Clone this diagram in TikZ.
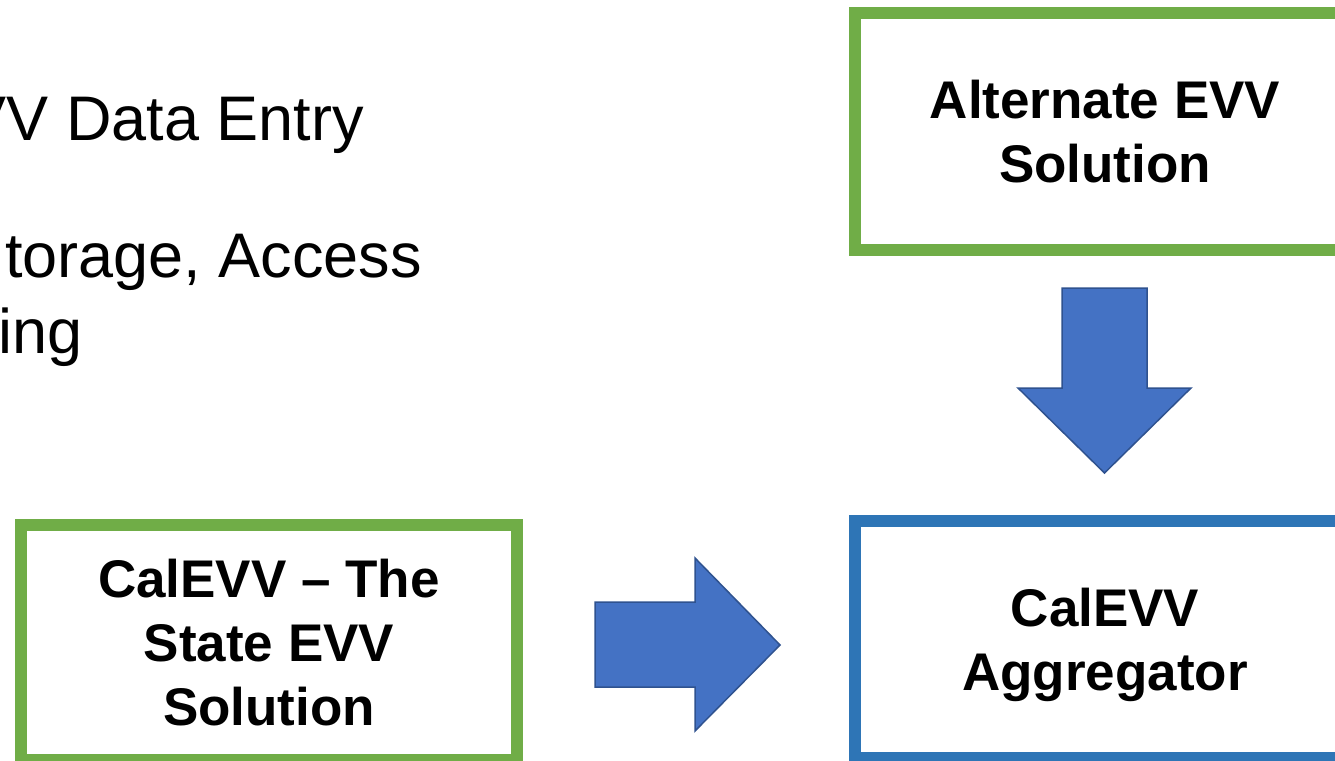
\documentclass[tikz,border=0pt]{standalone}
\usepackage{fontspec}
\setmainfont{Liberation Sans}
\definecolor{boxgreen}{HTML}{70AD47}
\definecolor{boxblue}{HTML}{2E75B6}
\definecolor{arrowfill}{HTML}{4472C4}
\definecolor{arrowline}{HTML}{2F528F}
\begin{document}
\begin{tikzpicture}[x=1pt,y=-1pt,
  bigtext/.style={inner sep=0pt, font=\fontsize{63}{76}\selectfont},
  boxtext/.style={draw, line width=12pt, align=center, inner sep=0pt, text depth=0pt, font=\fontsize{53}{64}\selectfont\bfseries},
  greenbox/.style={boxtext, draw=boxgreen},
  bluebox/.style={boxtext, draw=boxblue},
  blockarrow/.style={fill=arrowfill, draw=arrowline, line width=1.5pt, line join=miter}]
\useasboundingbox (0,0) rectangle (1335,760);
\clip (0,0) rectangle (1335,760);
\fill[white] (0,0) rectangle (1335,760);
% left text
\node[bigtext, anchor=base east] (l1) at (364,140) {EVV Data Entry};
\node[bigtext, anchor=base east] (l2) at (422,277) {torage, Access};
\node[bigtext, anchor=base west] (l3) at (-2,353) {ing};
% boxes
\node[greenbox, minimum width=496pt, minimum height=235pt] (state) at (269,642.5) {CalEVV -- The\\State EVV\\Solution};
\node[greenbox, minimum width=500pt, minimum height=237pt] (alt) at (1105,131.5) {Alternate EVV\\Solution};
\node[bluebox, minimum width=500pt, minimum height=237pt] (agg) at (1105,639.5) {CalEVV\\Aggregator};
% block arrows
\draw[blockarrow] (595,602) -- (695,602) -- (695,558) -- (780,645) -- (695,731) -- (695,687) -- (595,687) -- cycle;
\draw[blockarrow] (1062,288) -- (1147,288) -- (1147,388) -- (1191,388) -- (1104.5,473) -- (1018,388) -- (1062,388) -- cycle;
\end{tikzpicture}
\end{document}
